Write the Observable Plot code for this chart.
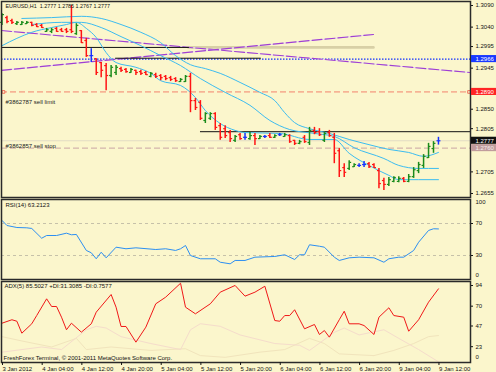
<!DOCTYPE html>
<html><head><meta charset="utf-8">
<script src="https://cdn.jsdelivr.net/npm/d3@7"></script>
<script src="https://cdn.jsdelivr.net/npm/@observablehq/plot@0.6"></script>
<style>
body{margin:0;background:#fbf6cc;}
#chart{position:relative;width:496px;height:372px;overflow:hidden;background:#fbf6cc;}
#chart svg{position:absolute;left:0;display:block;}
</style></head><body><div id="chart"></div>
<script>
// ---------- data ----------
const symbol = "EURUSD,H1";
const open  = [1.3051,1.3062,1.3055,1.3048,1.3046,1.3048,1.3051,1.3046,1.3044,1.3030,1.3030,1.3037,1.3034,1.3034,1.3034,1.3025,1.3032,1.3009,1.2974,1.2967,1.2958,1.2951,1.2928,1.2935,1.2944,1.2942,1.2935,1.2940,1.2937,1.2935,1.2926,1.2930,1.2928,1.2926,1.2923,1.2921,1.2914,1.2914,1.2926,1.2870,1.2866,1.2824,1.2829,1.2840,1.2812,1.2805,1.2796,1.2778,1.2791,1.2785,1.2782,1.2789,1.2782,1.2787,1.2789,1.2785,1.2791,1.2787,1.2789,1.2778,1.2771,1.2785,1.2773,1.2801,1.2798,1.2778,1.2796,1.2785,1.2754,1.2715,1.2713,1.2717,1.2720,1.2722,1.2724,1.2722,1.2708,1.2685,1.2676,1.2683,1.2683,1.2690,1.2683,1.2694,1.2708,1.2720,1.2738,1.2759,1.2777];
const high  = [1.3071,1.3065,1.3058,1.3053,1.3053,1.3053,1.3051,1.3048,1.3046,1.3037,1.3037,1.3039,1.3037,1.3037,1.3090,1.3048,1.3032,1.3014,1.2990,1.2967,1.2958,1.2956,1.2951,1.2951,1.2947,1.2944,1.2944,1.2940,1.2940,1.2937,1.2935,1.2933,1.2930,1.2928,1.2926,1.2923,1.2921,1.2928,1.2933,1.2875,1.2870,1.2842,1.2842,1.2842,1.2817,1.2812,1.2801,1.2789,1.2794,1.2794,1.2796,1.2794,1.2789,1.2789,1.2794,1.2791,1.2794,1.2794,1.2791,1.2778,1.2778,1.2789,1.2808,1.2808,1.2805,1.2796,1.2801,1.2794,1.2759,1.2724,1.2731,1.2724,1.2724,1.2729,1.2727,1.2724,1.2713,1.2690,1.2692,1.2694,1.2694,1.2692,1.2699,1.2715,1.2727,1.2745,1.2771,1.2775,1.2785];
const low   = [1.3044,1.3048,1.3046,1.3044,1.3044,1.3046,1.3041,1.3039,1.3037,1.3028,1.3025,1.3028,1.3028,1.3025,1.3025,1.3021,1.3002,1.2970,1.2958,1.2928,1.2923,1.2893,1.2923,1.2928,1.2935,1.2933,1.2933,1.2928,1.2928,1.2928,1.2923,1.2921,1.2916,1.2916,1.2914,1.2912,1.2912,1.2912,1.2842,1.2847,1.2824,1.2817,1.2824,1.2801,1.2778,1.2782,1.2773,1.2773,1.2778,1.2778,1.2778,1.2766,1.2780,1.2782,1.2782,1.2782,1.2787,1.2785,1.2771,1.2766,1.2768,1.2771,1.2766,1.2791,1.2787,1.2773,1.2785,1.2724,1.2692,1.2692,1.2708,1.2715,1.2715,1.2715,1.2713,1.2713,1.2666,1.2662,1.2671,1.2680,1.2680,1.2680,1.2680,1.2690,1.2701,1.2713,1.2736,1.2748,1.2767];
const close = [1.3069,1.3053,1.3051,1.3051,1.3051,1.3051,1.3044,1.3041,1.3039,1.3034,1.3034,1.3030,1.3030,1.3030,1.3030,1.3044,1.3004,1.2974,1.2974,1.2935,1.2940,1.2928,1.2947,1.2947,1.2940,1.2937,1.2942,1.2935,1.2933,1.2930,1.2933,1.2926,1.2923,1.2921,1.2919,1.2916,1.2919,1.2926,1.2870,1.2854,1.2829,1.2840,1.2840,1.2808,1.2785,1.2789,1.2782,1.2787,1.2782,1.2785,1.2789,1.2782,1.2787,1.2787,1.2785,1.2789,1.2791,1.2791,1.2775,1.2771,1.2775,1.2775,1.2801,1.2796,1.2791,1.2794,1.2789,1.2748,1.2708,1.2704,1.2727,1.2722,1.2720,1.2722,1.2717,1.2715,1.2678,1.2676,1.2687,1.2692,1.2690,1.2683,1.2694,1.2710,1.2722,1.2741,1.2764,1.2771,1.2777];

const xTickIndex  = [0,8,16,24,32,40,48,56,64,72,80,88];
const xTickLabels = ["3 Jan 2012","4 Jan 04:00","4 Jan 12:00","4 Jan 20:00","5 Jan 04:00","5 Jan 12:00","5 Jan 20:00","6 Jan 04:00","6 Jan 12:00","6 Jan 20:00","9 Jan 04:00","9 Jan 12:00"];
const priceTicks  = [1.3090,1.3040,1.2995,1.2945,1.2850,1.2805,1.2705,1.2655];

const upperIdx   = [4,10,16,20,24,28,32,35,38,41,44,48,52,55,57,59,62,66,70,74,78,82,85,88];
const upperPrice = [1.3060,1.3062,1.3065,1.3060,1.3046,1.3028,1.3004,1.2974,1.2953,1.2944,1.2933,1.2912,1.2889,1.2870,1.2842,1.2819,1.2805,1.2794,1.2780,1.2768,1.2757,1.2750,1.2741,1.2750];
const midIdx     = [6,12,16,20,24,28,32,36,40,45,50,54,58,63,67,71,77,80,84,88];
const midPrice   = [1.3046,1.3051,1.3051,1.3039,1.3018,1.2997,1.2974,1.2951,1.2921,1.2889,1.2859,1.2824,1.2803,1.2794,1.2787,1.2761,1.2736,1.2720,1.2713,1.2713];
const lowerIdx   = [0,3,6,10,13,15,17,19,21,23,27,30,32,36,39,41,44,47,49,56,62,67,70,74,78,80,88];
const lowerPrice = [1.2997,1.3014,1.3028,1.3039,1.3046,1.3051,1.3037,1.3016,1.2981,1.2958,1.2947,1.2933,1.2916,1.2905,1.2877,1.2847,1.2817,1.2801,1.2796,1.2794,1.2780,1.2780,1.2748,1.2720,1.2697,1.2687,1.2687];

const trend1Idx = [-0.1,94.25], trend1Price = [1.3032,1.2935];
const trend2Idx = [-0.1,74.9],  trend2Price = [1.2940,1.3023];
const hline1Idx = [-0.1,37.6],  hline1Price = 1.2993;
const tanIdx    = [37.6,74.9];
const hline2Idx = [22.9,52.1],  hline2Price = 1.2968;
const hline3Idx = [40,94.46],   hline3Price = 1.2798;
const levelPrice = 1.2966;
const orderLabels = ["#3862787 sell limit","#3862857 sell stop"];
const orderPrices = [1.2890,1.2760];

const rsiIdx = [0,1,3,5,6,8,9,11,13,14,15,17,18,19,20,21,23,25,27,31,33,35,36,37,38,40,43,44,46,47,49,51,55,57,59,60,61,62,64,65,67,68,70,72,75,77,78,80,81,83,84,86,87,88];
const rsiVal = [73.8,67.5,65,64.6,63.8,51.6,55,55,57.9,55.9,56.3,36.3,33.4,25.9,34.1,27.1,40.4,38.4,39.6,37.5,38.4,36.3,38.4,42.5,30,25.9,25.9,21.6,19.6,23.8,23.8,27.9,28.8,30.9,25,30.9,30.9,43.4,41.6,40.4,27.9,23.8,27.1,27.9,27.1,21.6,25.9,27.9,27.9,36.3,46.6,61.3,63.4,63.2];
const rsiLast = 63.2123;
const rsiLevels = [70,30];

const adxIdx = [0,2,3,4,6,7,9,10,11,12,13,14,16,18,19,22,23,24,25,27,29,31,33,36,37,39,42,44,47,49,51,53,55,56,57,58,59,61,63,64,65,66,68,69,70,72,73,75,76,78,79,81,82,84,86,88];
const adxVal = [45.6,49.6,47.9,34.0,44.9,54.5,73.9,65.0,65.0,52.6,38.0,45.6,35.2,44.9,58.4,78.9,64.2,41.8,41.8,23.6,41.0,68.1,75.8,92.0,64.2,56.5,68.1,81.6,89.4,77.0,81.6,88.5,48.7,47.9,54.5,54.5,61.2,39.1,44.1,32.5,37.1,29.4,49.6,59.5,44.9,44.9,42.9,32.5,52.6,63.5,54.5,52.6,36.3,49.6,70.0,85.5];
const plusDIIdx = [0,4,10,15,17,22,30,37,40,45,52,57,62,65,68,75,79,83,86,88];
const plusDIVal = [30,25,18,28,15,18,14,16,8,6,12,15,28,22,10,8,14,22,30,31.3];
const minusDIIdx = [0,8,12,17,19,21,24,30,36,38,40,44,48,55,60,62,67,69,72,77,80,84,88];
const minusDIVal = [12,18,15,38,42,40,30,22,15,38,45,42,32,22,20,14,35,40,32,38,28,15,0.8];
const adxLast = 85.5027, plusDILast = 31.3085, minusDILast = 0.7577;
const rsiTicks = [100,70,30,0];
const adxTicks = [94,70,47,23,0];
const copyright = "FreshForex Terminal, © 2001-2011 MetaQuotes Software Corp.";

// ---------- tables ----------
const bars = open.map((o,i)=>({i,o,h:high[i],l:low[i],c:close[i],
  col: close[i]>o ? "#1c8c1c" : close[i]<o ? "#ff1414" : "#1832ff"}));
const pts = (idx, val) => idx.map((i,k)=>({i, v: val[k]}));
const upper = pts(upperIdx, upperPrice), mid = pts(midIdx, midPrice), lower = pts(lowerIdx, lowerPrice);
const t1 = pts(trend1Idx, trend1Price), t2 = pts(trend2Idx, trend2Price);
const rsi = pts(rsiIdx, rsiVal), adx = pts(adxIdx, adxVal);
const pdi = pts(plusDIIdx, plusDIVal), mdi = pts(minusDIIdx, minusDIVal);

const XD = [-0.1, 94.46];
const pxToIdx = px => XD[0] + (px-1)*(XD[1]-XD[0])/469;
const boxX1 = pxToIdx(471), boxX2 = pxToIdx(497);
const boxH = 0.00082;
const font = "Liberation Sans, Arial, sans-serif";
const common = {width:496, marginLeft:1, marginRight:26,
  style:{background:"transparent", fontSize:"6px", fontFamily:font, color:"#151515", overflow:"visible"},
  x:{domain:XD, axis:null, label:null}, color:{type:"identity"}};

const priceBoxes = [
  {p: levelPrice, bg:"#1838ff", fg:"#ffffff"},
  {p: orderPrices[0], bg:"#ff2424", fg:"#ffffff"},
  {p: close[close.length-1], bg:"#101010", fg:"#ffffff"},
  {p: orderPrices[1], bg:"#c09c9c", fg:"#f6eeee"}
];
const last = bars[bars.length-1];
const title = `${symbol}  ${last.o.toFixed(4)} ${last.h.toFixed(4)} ${last.l.toFixed(4)} ${last.c.toFixed(4)}`;
const edgeLabel = (vals, dy) => Plot.text(vals.map(v=>({v, t:String(v), i:XD[1]})),
  {x:"i", y:"v", text:"t", textAnchor:"start", dx:5, dy, fill:"#151515", fontSize:6});
const trend = (t) => [
  Plot.line(t, {x:"i", y:"v", stroke:"#e8dcee", strokeWidth:1.1}),
  Plot.line(t, {x:"i", y:"v", stroke:"#a040d0", strokeWidth:1.1, strokeDasharray:"10,3"})
];

// ---------- main panel ----------
const main = Plot.plot({...common, height:198, marginTop:1, marginBottom:1,
  y:{domain:[1.264574,1.309926], axis:null, label:null},
  marks:[
    Plot.ruleY([close[close.length-1]], {stroke:"#dcd5c2", strokeWidth:0.8}),
    Plot.ruleY([orderPrices[0]], {stroke:"#f3826e", strokeDasharray:"6,3", strokeWidth:1}),
    Plot.ruleY([orderPrices[1]], {stroke:"#c9a4a4", strokeDasharray:"6,3", strokeWidth:1}),
    Plot.ruleY([levelPrice], {stroke:"#1030ff", strokeDasharray:"1.5,1.5", strokeWidth:1.2}),
    Plot.line(tanIdx.map(i=>({i,v:hline1Price})), {x:"i", y:"v", stroke:"#d8d0a6", strokeWidth:2.6}),
    ...trend(t1), ...trend(t2),
    Plot.line(hline1Idx.map(i=>({i,v:hline1Price})), {x:"i", y:"v", stroke:"#111", strokeWidth:1}),
    Plot.line(hline2Idx.map(i=>({i,v:hline2Price})), {x:"i", y:"v", stroke:"#111", strokeWidth:1}),
    Plot.line(hline3Idx.map(i=>({i,v:hline3Price})), {x:"i", y:"v", stroke:"#111", strokeWidth:1}),
    Plot.line(upper, {x:"i", y:"v", stroke:"#3cbcf0", strokeWidth:1, curve:"monotone-x"}),
    Plot.line(mid,   {x:"i", y:"v", stroke:"#3cbcf0", strokeWidth:1, curve:"monotone-x"}),
    Plot.line(lower, {x:"i", y:"v", stroke:"#3cbcf0", strokeWidth:1, curve:"monotone-x"}),
    Plot.ruleX(bars, {x:"i", y1:"l", y2:"h", stroke:"col", strokeWidth:1.5}),
    Plot.link(bars, {x1:d=>d.i-0.4, x2:"i", y1:"o", y2:"o", stroke:"col", strokeWidth:1.2}),
    Plot.link(bars, {x1:"i", x2:d=>d.i+0.4, y1:"c", y2:"c", stroke:"col", strokeWidth:1.2}),
    Plot.dot([{i:XD[0]+0.4, v:orderPrices[0]},{i:XD[1]-0.3, v:orderPrices[0]}], {x:"i", y:"v", symbol:"square", r:1.5, stroke:"#f05040", fill:"#fbf6cc", strokeWidth:0.8}),
    Plot.text([orderLabels[0]], {x:XD[0], y:orderPrices[0], text:d=>d, textAnchor:"start", dx:4, dy:10, fill:"#222", fontSize:6}),
    Plot.text([orderLabels[1]], {x:XD[0], y:orderPrices[1], text:d=>d, textAnchor:"start", dx:4, dy:-2.5, fill:"#222", fontSize:6}),
    Plot.text([title], {frameAnchor:"top-left", text:d=>d, dx:4, dy:3, fill:"#111", fontSize:5.4}),
    Plot.frame({stroke:"#2a2a2a", strokeWidth:1.5}),
    Plot.axisY({anchor:"right", label:null, ticks:priceTicks, tickFormat:d=>d.toFixed(4), tickSize:2, tickPadding:3, textAnchor:"start"}),
    Plot.rect(priceBoxes, {x1:boxX1, x2:boxX2, y1:d=>d.p-boxH, y2:d=>d.p+boxH, fill:"bg"}),
    Plot.text(priceBoxes, {x:boxX1, y:"p", text:d=>d.p.toFixed(4), fill:"fg", textAnchor:"start", dx:4})
  ]});

// ---------- RSI panel ----------
const rsiPlot = Plot.plot({...common, height:82, marginTop:1, marginBottom:1,
  y:{domain:[0,100], axis:null, label:null},
  marks:[
    Plot.ruleY(rsiLevels, {stroke:"#b9b4a0", strokeDasharray:"3,3", strokeWidth:0.8}),
    Plot.line(rsi, {x:"i", y:"v", stroke:"#2c8ff2", strokeWidth:1}),
    Plot.text([`RSI(14) ${rsiLast.toFixed(4)}`], {frameAnchor:"top-left", text:d=>d, dx:4, dy:3, fill:"#111", fontSize:6}),
    Plot.frame({stroke:"#2a2a2a", strokeWidth:1.5}),
    Plot.axisY({anchor:"right", label:null, ticks:rsiTicks.slice(1,3), tickSize:2, tickPadding:3, textAnchor:"start"}),
    edgeLabel([rsiTicks[0]], 3),
    edgeLabel([rsiTicks[3]], -4)
  ]});

// ---------- ADX panel ----------
const adxPlot = Plot.plot({...common, height:92, marginTop:1, marginBottom:10,
  y:{domain:[0,94], axis:null, label:null},
  marks:[
    Plot.line(pdi, {x:"i", y:"v", stroke:"#f1e4bc", strokeWidth:1}),
    Plot.line(mdi, {x:"i", y:"v", stroke:"#f5dccb", strokeWidth:1}),
    Plot.line(adx, {x:"i", y:"v", stroke:"#f01818", strokeWidth:1}),
    Plot.text([`ADX(5) ${adxLast} +DI:${plusDILast} -DI:${minusDILast}`], {frameAnchor:"top-left", text:d=>d, dx:3, dy:2, fill:"#111", fontSize:6}),
    Plot.text([copyright], {frameAnchor:"bottom-left", text:d=>d, dx:2, dy:-3, fill:"#111", fontSize:6}),
    Plot.frame({stroke:"#2a2a2a", strokeWidth:1.5}),
    Plot.axisY({anchor:"right", label:null, ticks:adxTicks.slice(0,4), tickSize:2, tickPadding:3, textAnchor:"start", dy:4}),
    edgeLabel([adxTicks[4]], -5),
    Plot.axisX({anchor:"bottom", label:null, ticks:xTickIndex, tickFormat:d=>xTickLabels[xTickIndex.indexOf(d)], tickSize:3, tickPadding:1, textAnchor:"start", dx:0.5})
  ]});

const chart = document.getElementById("chart");
[[main,0],[rsiPlot,198],[adxPlot,280]].forEach(([svg,top])=>{svg.style.top=top+"px"; chart.appendChild(svg);});
</script></body></html>
